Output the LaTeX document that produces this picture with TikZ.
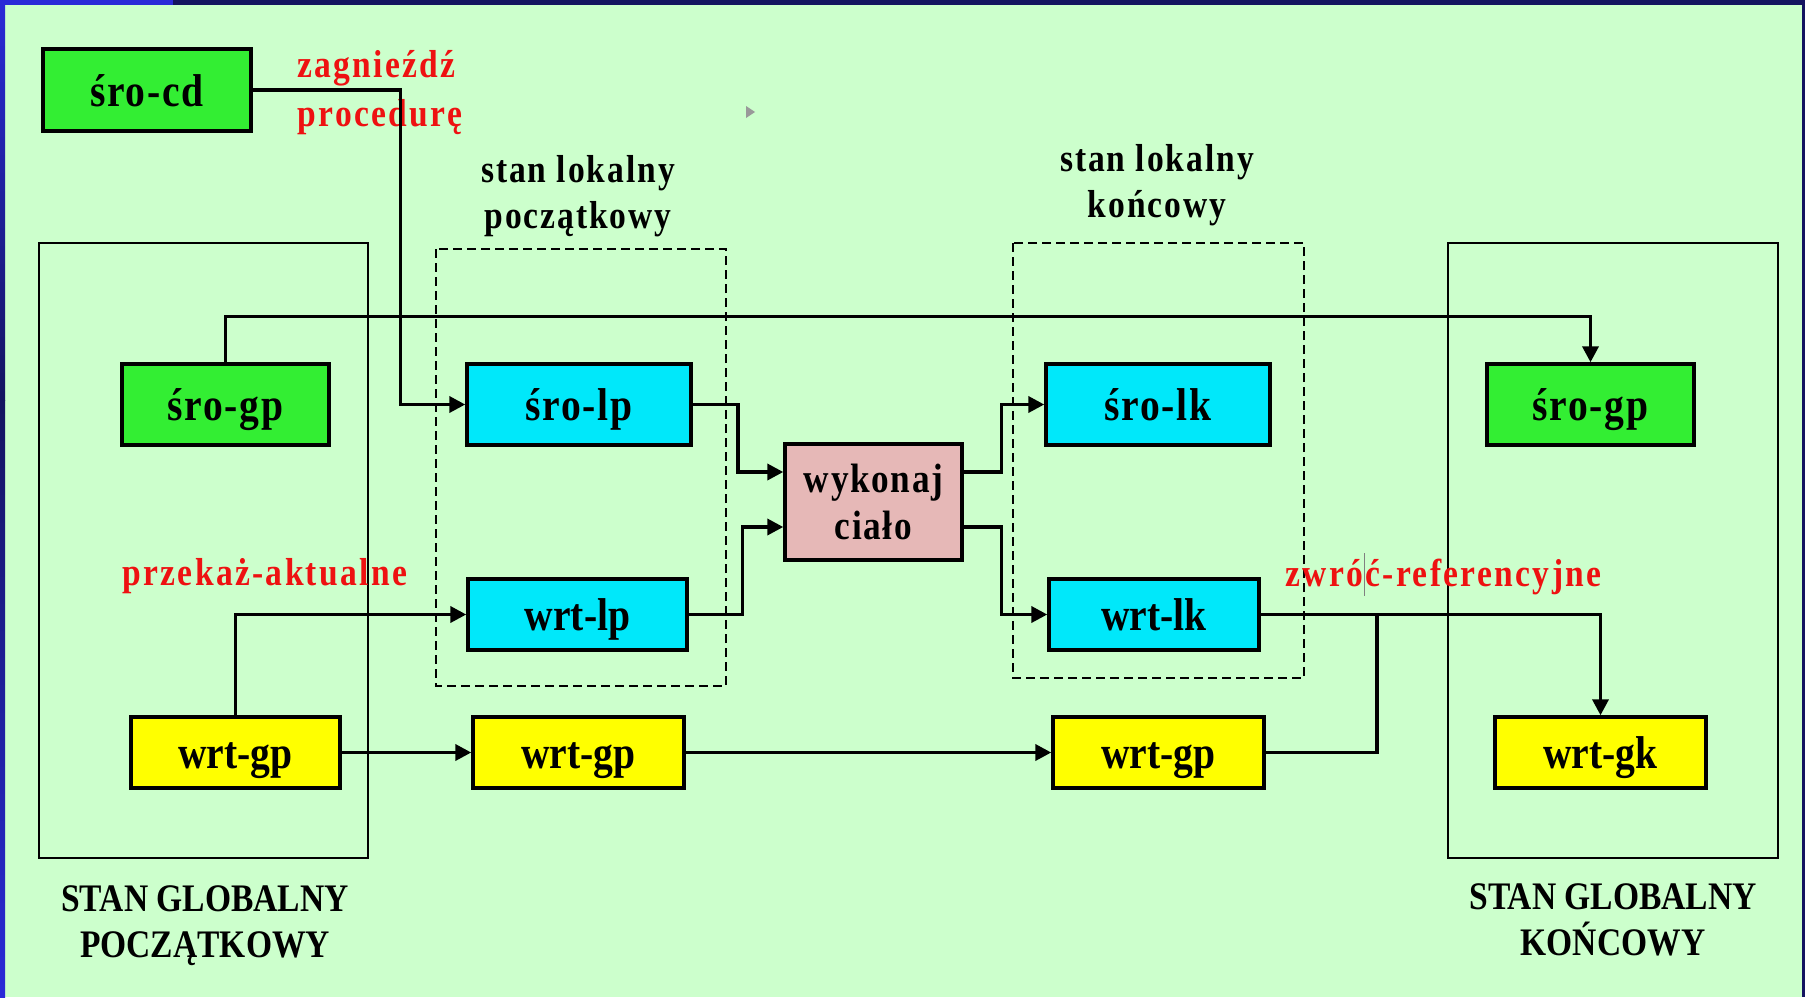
\documentclass[tikz,border=0pt]{standalone}
\usepackage{fontspec}
\setmainfont{Liberation Serif}[FakeStretch=0.86]
\usetikzlibrary{arrows.meta}
\definecolor{bg}{HTML}{CCFFCC}
\definecolor{navy}{HTML}{141460}
\definecolor{edgeblue}{HTML}{2A2AD8}
\definecolor{gbox}{HTML}{33EE33}
\definecolor{cbox}{HTML}{00E8FA}
\definecolor{ybox}{HTML}{FFFF00}
\definecolor{pbox}{HTML}{E6B8B7}
\definecolor{lbl}{HTML}{EE1111}
\tikzset{
  box/.style={draw=black, line width=1.7pt, inner sep=0pt, text height=16pt, text depth=0pt,
    font=\bfseries\fontsize{23}{27}\selectfont},
  sro/.style={font=\bfseries\fontsize{23}{27}\selectfont\addfontfeatures{LetterSpace=4}},
  gbx/.style={box, sro, fill=gbox, minimum width=103.5pt, minimum height=40.5pt},
  cbx/.style={box, fill=cbox, minimum height=40.5pt},
  ybx/.style={box, fill=ybox, minimum width=105.5pt, minimum height=35.5pt},
  conn/.style={line width=1.8pt, -{Triangle[length=8pt,width=8pt]}},
  line/.style={line width=1.8pt},
  gframe/.style={draw=black, line width=1.3pt},
  lframe/.style={draw=black, line width=1.4pt, dash pattern=on 4.5pt off 2.5pt},
  redlbl/.style={text=lbl, inner sep=0pt,
    font=\bfseries\fontsize{19.5}{24.5}\selectfont\addfontfeatures{LetterSpace=6}},
  head/.style={align=center, inner sep=0pt,
    font=\bfseries\fontsize{19.5}{23}\selectfont\addfontfeatures{LetterSpace=5}},
  ghead/.style={align=center, inner sep=0pt, font=\bfseries\fontsize{19.5}{23}\selectfont}
}
\begin{document}
\begin{tikzpicture}[x=0.5pt,y=-0.5pt]
\useasboundingbox (0,0) rectangle (1805,997);
\fill[bg] (0,0) rectangle (1805,997);
% borders
\fill[navy] (0,0) rectangle (1805,5);
\fill[edgeblue] (0,0) rectangle (173,5);
\shade[top color=edgeblue, bottom color=navy] (0,0) rectangle (5,400);
\shade[top color=navy, bottom color=edgeblue] (0,400) rectangle (5,997);
\fill[navy] (1802,0) rectangle (1805,997);
% small grey marker
\fill[gray!80] (746,106) -- (755,112) -- (746,118) -- cycle;

% frames
\draw[gframe] (39,243) rectangle (368,858);
\draw[gframe] (1448,243) rectangle (1778,858);
\draw[lframe] (436,249) rectangle (726,686);
\draw[lframe] (1013,243) rectangle (1304,678);

% nodes
\node[gbx, minimum width=104pt, minimum height=41pt] (srocd) at (147,90) {śro-cd};
\node[gbx] (srogpL) at (225.5,404.5) {śro-gp};
\node[cbx, sro, minimum width=112pt] (srolp) at (579,404.5) {śro-lp};
\node[box, fill=pbox, minimum width=88.5pt, minimum height=58pt, align=center, text height=, text depth=,
  font=\bfseries\fontsize{20.5}{23.5}\selectfont\addfontfeatures{LetterSpace=4}] (wyk) at (873.5,502) {wykonaj\\ciało};
\node[cbx, sro, minimum width=112pt] (srolk) at (1158,404.5) {śro-lk};
\node[gbx] (srogpR) at (1590.5,404.5) {śro-gp};
\node[cbx, minimum width=109.5pt, minimum height=35.5pt] (wrtlp) at (577.5,614.5) {wrt-lp};
\node[cbx, minimum width=105pt, minimum height=35.5pt] (wrtlk) at (1154,614.5) {wrt-lk};
\node[ybx, minimum width=104.5pt] (wrtgp1) at (235.5,752.5) {wrt-gp};
\node[ybx] (wrtgp2) at (578.5,752.5) {wrt-gp};
\node[ybx] (wrtgp3) at (1158.5,752.5) {wrt-gp};
\node[ybx] (wrtgk) at (1600.5,752.5) {wrt-gk};

% labels
\node[redlbl, anchor=west, align=left] (lzag) at (297,93) {zagnieźdź\\procedurę};
\node[head] (hlp) at (578,196.5) {stan lokalny\\początkowy};
\node[head] (hlk) at (1157,185.5) {stan lokalny\\końcowy};
\node[redlbl, anchor=west] (lprz) at (122,576.5) {przekaż-aktualne};
\node[redlbl, anchor=west] (lzwr) at (1285,576.5) {zwróć-referencyjne};
\draw[gray, line width=0.5pt] (1364,553) -- (1364,596);
\node[ghead] (hgp) at (205,926) {STAN GLOBALNY\\POCZĄTKOWY};
\node[ghead] (hgk) at (1613,920) {STAN GLOBALNY\\KOŃCOWY};

% bend coordinates
\coordinate (k1) at (400.5,404.5);
\coordinate (k2) at (900,316.5);
\coordinate (k3) at (738,404.5);
\coordinate (k4) at (742.5,614.5);
\coordinate (k5) at (1001.5,472);
\coordinate (k6) at (1001.5,527);
\coordinate (k9) at (1377,614.5);

% connectors
\draw[conn] (srocd.east) -| (k1) -- (srolp.west);
\draw[conn] (srogpL.north) |- (k2) -| (srogpR.north);
\draw[conn] (srolp.east) -- (k3) |- ([yshift=15pt]wyk.west);
\draw[conn] (wrtlp.east) -- (k4) |- ([yshift=-12.5pt]wyk.west);
\draw[conn] ([yshift=15pt]wyk.east) -- (k5) |- (srolk.west);
\draw[conn] ([yshift=-12.5pt]wyk.east) -- (k6) |- (wrtlk.west);
\draw[conn] (wrtgp1.north) |- (wrtlp.west);
\draw[conn] (wrtgp1.east) -- (wrtgp2.west);
\draw[conn] (wrtgp2.east) -- (wrtgp3.west);
\draw[line] (wrtgp3.east) -| (k9);
\draw[conn] (wrtlk.east) -| (wrtgk.north);
\end{tikzpicture}
\end{document}
